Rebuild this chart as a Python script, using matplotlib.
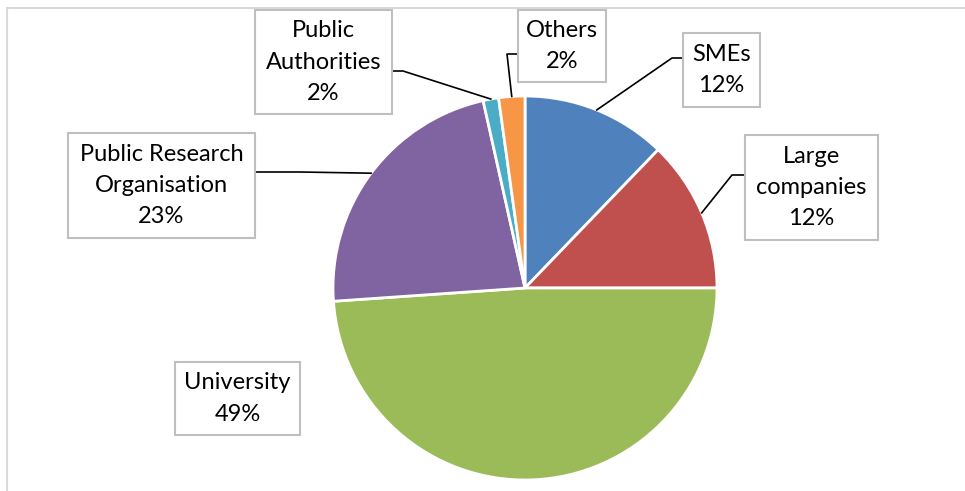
import numpy as np
import matplotlib.pyplot as plt
from matplotlib.patches import Rectangle

# slice sizes (percent), with the printed labels
categories = ['SMEs', 'Large\ncompanies', 'University', 'Public Research\nOrganisation',
              'Public\nAuthorities', 'Others']
values = [12.2, 12.8, 48.9, 22.6, 1.3, 2.2]
pct_labels = ['12%', '12%', '49%', '23%', '2%', '2%']
colors = ['#4F81BD', '#C0504D', '#9BBB59', '#8064A2', '#4BACC6', '#F79646']

W, H = 965, 491
plt.rcParams['font.family'] = ['Lato', 'DejaVu Sans']

fig = plt.figure(figsize=(W / 100, H / 100), dpi=100)
ax = fig.add_axes([0, 0, 1, 1])

def py(y):
    # pixel row (from top) -> data y
    return H - y

cx, cy, r = 525, py(288), 192
wedges, _ = ax.pie(values, colors=colors, startangle=90, counterclock=False,
                   center=(cx, cy), radius=r, frame=True,
                   wedgeprops=dict(edgecolor='white', linewidth=2))
ax.set_xlim(0, W)
ax.set_ylim(0, H)
ax.set_aspect('equal')
ax.axis('off')

# chart frame
ax.add_patch(Rectangle((7, py(520)), 1000, 512, fill=False, ec='#D9D9D9', lw=1.5))

# label boxes: (x0, y0, x1, y1) in pixels, elbow point, box edge point
boxes = [
    ((683, 33, 760, 107), (672, 58), (683, 58)),
    ((745, 135, 878, 240), (732, 175), (745, 175)),
    ((175, 362, 300, 435), None, None),
    ((68, 133, 255, 238), (300, 172), (255, 172)),
    ((255, 10, 392, 114), (403, 71), (392, 71)),
    ((518, 10, 606, 82), (507, 54), (518, 54)),
]

for w, name, pct, (box, elbow, edge) in zip(wedges, categories, pct_labels, boxes):
    x0, y0, x1, y1 = box
    if elbow is not None:
        mid = np.deg2rad((w.theta1 + w.theta2) / 2)
        ax_, ay_ = cx + r * np.cos(mid), cy + r * np.sin(mid)
        ax.plot([ax_, elbow[0], edge[0]], [ay_, py(elbow[1]), py(edge[1])],
                color='black', lw=1.2, zorder=3)
    ax.add_patch(Rectangle((x0, py(y1)), x1 - x0, y1 - y0, fc='white',
                           ec='#BFBFBF', lw=1.5, zorder=4))
    ax.text((x0 + x1) / 2, py((y0 + y1) / 2), name + '\n' + pct, ha='center',
            va='center', fontsize=17, linespacing=1.6, color='black', zorder=5)

fig.savefig('out.png', dpi=100)
